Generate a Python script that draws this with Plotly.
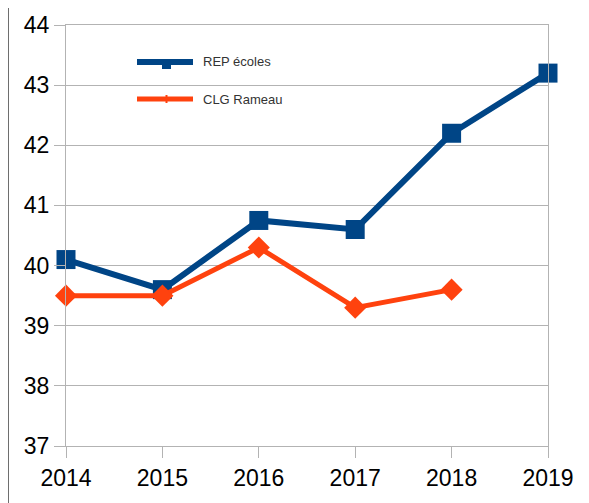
import plotly.graph_objects as go

years = [2014, 2015, 2016, 2017, 2018, 2019]
rep_ecoles = [40.1, 39.6, 40.75, 40.6, 42.2, 43.2]
clg_years = [2014, 2015, 2016, 2017, 2018]
clg_rameau = [39.5, 39.5, 40.3, 39.3, 39.6]
y_ticks = [37, 38, 39, 40, 41, 42, 43, 44]
series_names = ["REP écoles", "CLG Rameau"]

BLUE = "#004586"
ORANGE = "#ff420e"
GRID = "#b3b3b3"

fig = go.Figure()
fig.add_trace(go.Scatter(
    x=years, y=rep_ecoles, name=series_names[0], mode="lines+markers",
    line=dict(color=BLUE, width=6),
    marker=dict(symbol="square", size=19, color=BLUE),
    cliponaxis=False,
))
fig.add_trace(go.Scatter(
    x=clg_years, y=clg_rameau, name=series_names[1], mode="lines+markers",
    line=dict(color=ORANGE, width=5),
    marker=dict(symbol="diamond", size=17, color=ORANGE),
    cliponaxis=False,
))

# page has an 8px body margin; coordinates below are in figure pixels
OFF = 8
L, T = 66 - OFF, 25 - OFF
W, H = 589, 503
pw, ph = 482, 421
R = W - L - pw
B = H - T - ph


def px(xp):
    return (xp - OFF - L) / pw


def py(yp):
    return 1 - (yp - OFF - T) / ph


shapes = [dict(
    type="line", xref="paper", yref="paper",
    x0=px(8), x1=px(8), y0=py(H + OFF), y1=py(0),
    line=dict(color="#6e6e6e", width=2),
)]
annotations = []
leg = [(62, BLUE, 6, "sq"), (99, ORANGE, 5, "di")]
for (yc, col, w, kind), name in zip(leg, series_names):
    shapes.append(dict(type="line", xref="paper", yref="paper",
                       x0=px(137), x1=px(193), y0=py(yc), y1=py(yc),
                       line=dict(color=col, width=w)))
    if kind == "sq":
        shapes.append(dict(type="rect", xref="paper", yref="paper",
                           x0=px(162), x1=px(171), y0=py(69), y1=py(60),
                           fillcolor=col, line=dict(width=0)))
    else:
        shapes.append(dict(type="line", xref="paper", yref="paper",
                           x0=px(166.5), x1=px(166.5), y0=py(103), y1=py(95),
                           line=dict(color=col, width=2)))
    annotations.append(dict(
        xref="paper", yref="paper", x=px(201), y=py(yc), xanchor="left",
        yanchor="middle", text=name, showarrow=False,
        font=dict(size=13, color="#333333"),
    ))

fig.update_layout(
    width=W, height=H,
    margin=dict(l=L, r=R, t=T, b=B, pad=0, autoexpand=False),
    paper_bgcolor="white", plot_bgcolor="white",
    font=dict(family="Liberation Sans, Arial, sans-serif", color="black"),
    showlegend=False,
    xaxis=dict(
        range=[2014, 2019], tickvals=years, ticktext=[str(y) for y in years],
        showgrid=False, showline=True, linecolor=GRID, linewidth=1, mirror=True,
        ticks="outside", ticklen=11, tickcolor=GRID, tickfont=dict(size=23),
        zeroline=False, automargin=False,
    ),
    yaxis=dict(
        range=[37, 44], tickvals=y_ticks, showgrid=True, gridcolor=GRID, gridwidth=1,
        showline=True, linecolor=GRID, linewidth=1, mirror=True,
        ticks="outside", ticklen=11, tickcolor=GRID, tickfont=dict(size=23),
        zeroline=False, automargin=False,
    ),
    shapes=shapes,
    annotations=annotations,
)

fig.write_html("out.html")
